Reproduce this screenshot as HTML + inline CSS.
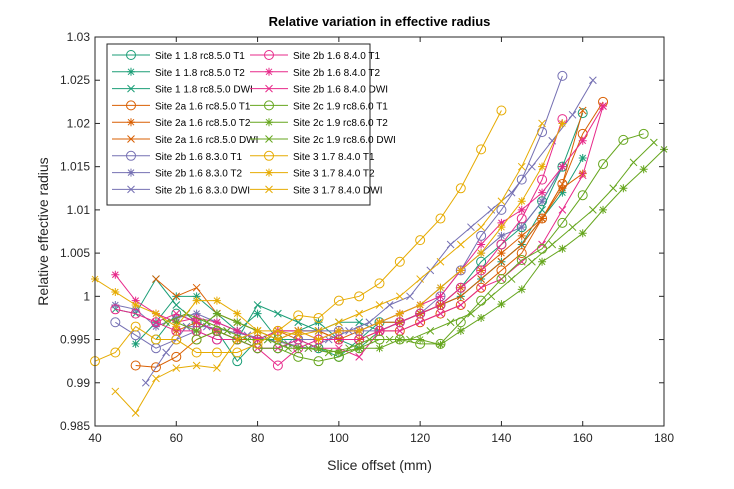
<!DOCTYPE html>
<html><head><meta charset="utf-8"><style>
body{margin:0;background:#fff}
svg{font-family:"Liberation Sans",sans-serif}
</style></head><body>
<svg id="chart" width="734" height="484"></svg>
<script>
const xTicks=[40,60,80,100,120,140,160,180];
const yTicks=[0.985,0.99,0.995,1,1.005,1.01,1.015,1.02,1.025,1.03];
const yTickLabels=["0.985","0.99","0.995","1","1.005","1.01","1.015","1.02","1.025","1.03"];
const seriesNames=["Site 1 1.8 rc8.5.0 T1","Site 1 1.8 rc8.5.0 T2","Site 1 1.8 rc8.5.0 DWI","Site 2a 1.6 rc8.5.0 T1","Site 2a 1.6 rc8.5.0 T2","Site 2a 1.6 rc8.5.0 DWI","Site 2b 1.6 8.3.0 T1","Site 2b 1.6 8.3.0 T2","Site 2b 1.6 8.3.0 DWI","Site 2b 1.6 8.4.0 T1","Site 2b 1.6 8.4.0 T2","Site 2b 1.6 8.4.0 DWI","Site 2c 1.9 rc8.6.0 T1","Site 2c 1.9 rc8.6.0 T2","Site 2c 1.9 rc8.6.0 DWI","Site 3 1.7 8.4.0 T1","Site 3 1.7 8.4.0 T2","Site 3 1.7 8.4.0 DWI"];
const seriesStart=[55,50,45,50,60,55,45,45,52.5,45,45,55,65,60,57.5,40,40,45];
const s0=[0.995,0.998,0.997,0.996,0.9925,0.995,0.995,0.995,0.994,0.993,0.995,0.997,0.997,0.998,0.999,1.001,1.004,1.006,1.008,1.011,1.015,1.0212];
const s1=[0.9945,0.997,1.000,1.000,0.998,0.996,0.998,0.995,0.996,0.997,0.995,0.994,0.996,0.997,0.998,0.999,1.000,1.002,1.004,1.006,1.009,1.012,1.016];
const s2=[0.9985,0.998,1.002,0.999,0.997,0.996,0.995,0.999,0.998,0.997,0.996,0.997,0.997,0.996,0.997,0.998,0.999,1.000,1.002,1.004,1.006,1.010,1.015];
const s3=[0.992,0.9918,0.993,0.995,0.996,0.995,0.995,0.996,0.995,0.995,0.995,0.995,0.996,0.996,0.997,0.998,0.999,1.001,1.003,1.005,1.009,1.013,1.0188,1.0225];
const s4=[0.996,0.997,0.996,0.995,0.995,0.996,0.996,0.996,0.995,0.995,0.996,0.997,0.998,0.999,1.001,1.003,1.005,1.007,1.009,1.0125,1.0142];
const s5=[1.002,1.000,1.001,0.998,0.997,0.996,0.995,0.996,0.996,0.995,0.996,0.997,0.997,0.998,0.999,1.000,1.002,1.004,1.006,1.009,1.013,1.0215];
const s6=[0.997,0.9955,0.994,0.995,0.996,0.995,0.995,0.994,0.994,0.995,0.995,0.996,0.996,0.996,0.997,0.998,1.000,1.003,1.007,1.010,1.0135,1.019,1.0255];
const s7=[0.999,0.9985,0.9965,0.9975,0.998,0.997,0.996,0.995,0.996,0.996,0.996,0.996,0.996,0.997,0.998,0.999,1.001,1.003,1.005,1.007,1.008,1.011,1.015];
const s8=[0.990,0.9935,0.9965,0.9965,0.996,0.9955,0.995,0.9945,0.994,0.995,0.996,0.997,0.999,1.000,1.003,1.006,1.008,1.010,1.012,1.015,1.018,1.021,1.025];
const s9=[0.9985,0.998,0.997,0.996,0.996,0.995,0.995,0.994,0.992,0.994,0.995,0.995,0.995,0.996,0.997,0.998,0.999,1.001,1.003,1.006,1.009,1.0135,1.0205];
const s10=[1.0025,0.9995,0.998,0.997,0.9975,0.997,0.996,0.995,0.996,0.996,0.995,0.996,0.996,0.997,0.998,0.999,1.000,1.003,1.006,1.0085,1.010,1.012,1.015,1.018,1.022];
const s11=[0.997,0.998,0.997,0.996,0.995,0.994,0.994,0.995,0.994,0.994,0.993,0.996,0.996,0.997,0.998,0.999,1.001,1.002,1.004,1.006,1.010,1.014,1.022];
const s12=[0.995,0.996,0.995,0.994,0.994,0.993,0.9925,0.993,0.994,0.995,0.995,0.9945,0.9945,0.997,0.9995,1.002,1.0042,1.0055,1.0085,1.0117,1.0153,1.0181,1.0188];
const s13=[0.997,0.996,0.998,0.997,0.996,0.995,0.994,0.994,0.9935,0.994,0.994,0.995,0.995,0.9944,0.996,0.9975,0.9991,1.0008,1.004,1.0055,1.0073,1.010,1.0125,1.0147,1.017];
const s14=[0.997,0.998,0.997,0.996,0.995,0.995,0.994,0.994,0.9935,0.994,0.995,0.995,0.995,0.996,0.997,0.998,1.000,1.002,1.004,1.006,1.008,1.010,1.0125,1.0155,1.0178];
const s15=[0.9925,0.9935,0.9965,0.995,0.995,0.9935,0.9935,0.9935,0.9945,0.996,0.9978,0.9975,0.9995,1.000,1.0015,1.004,1.0065,1.009,1.0125,1.017,1.0215];
const s16=[1.002,1.0005,0.999,0.998,0.9965,0.9995,0.9995,0.998,0.996,0.995,0.996,0.995,0.996,0.996,0.997,0.998,0.999,1.001,1.003,1.005,1.008,1.011,1.015,1.020];
const s17=[0.989,0.9865,0.9905,0.9917,0.992,0.9917,0.995,0.996,0.996,0.9955,0.996,0.997,0.998,0.999,1.000,1.002,1.004,1.006,1.008,1.011,1.015,1.020];
const seriesValues=[s0,s1,s2,s3,s4,s5,s6,s7,s8,s9,s10,s11,s12,s13,s14,s15,s16,s17];
const colors=["#1b9e77","#d95f02","#7570b3","#e7298a","#66a61e","#e6ab02"];
const markers=["o","*","x"];

const L=95,R=664,T=37,B=426;
const xS=v=>L+(v-40)/140*(R-L);
const yS=v=>B-(v-0.985)/0.045*(B-T);
const NS="http://www.w3.org/2000/svg";
const svg=document.getElementById('chart');
function mk(tag,attrs,parent){const e=document.createElementNS(NS,tag);for(const k in attrs)e.setAttribute(k,attrs[k]);(parent||svg).appendChild(e);return e;}

const defs=mk('defs',{});
const cp=mk('clipPath',{id:'clip'},defs);
mk('rect',{x:L-6,y:T,width:R-L+12,height:B-T},cp);

function marker(g,type,x,y,c){
  if(type==='o'){mk('circle',{cx:x,cy:y,r:4.5,fill:'none',stroke:c,'stroke-width':1},g);}
  else if(type==='x'){mk('path',{d:`M${x-3.5} ${y-3.5}L${x+3.5} ${y+3.5}M${x-3.5} ${y+3.5}L${x+3.5} ${y-3.5}`,stroke:c,'stroke-width':1},g);}
  else{mk('path',{d:`M${x-4} ${y}L${x+4} ${y}M${x} ${y-4}L${x} ${y+4}M${x-3} ${y-3}L${x+3} ${y+3}M${x-3} ${y+3}L${x+3} ${y-3}`,stroke:c,'stroke-width':1},g);}
}

const sg=mk('g',{'clip-path':'url(#clip)'});


seriesValues.forEach((vals,i)=>{
  const c=colors[Math.floor(i/3)],m=markers[i%3];
  const g=mk('g',{},sg);
  
  
  const pts=vals.map((v,j)=>[xS(seriesStart[i]+5*j),yS(v)]);
  mk('polyline',{points:pts.map(p=>p.join(',')).join(' '),fill:'none',stroke:c,'stroke-width':1},g);
  pts.forEach(p=>marker(g,m,p[0],p[1],c));
});

const ax=mk('g',{});


mk('rect',{x:L,y:T,width:R-L,height:B-T,fill:'none',stroke:'#262626','stroke-width':1},ax);
xTicks.forEach(t=>{
  const x=xS(t);
  mk('line',{x1:x,y1:B,x2:x,y2:B-5,stroke:'#262626'},ax);
  mk('line',{x1:x,y1:T,x2:x,y2:T+5,stroke:'#262626'},ax);
  const tx=mk('text',{x:x,y:B+16,'text-anchor':'middle','font-size':12,fill:'#262626'},ax);
  tx.textContent=t;
  
  
});
yTicks.forEach((t,i)=>{
  const y=yS(t);
  mk('line',{x1:L,y1:y,x2:L+5,y2:y,stroke:'#262626'},ax);
  mk('line',{x1:R,y1:y,x2:R-5,y2:y,stroke:'#262626'},ax);
  const tx=mk('text',{x:L-5,y:y+4,'text-anchor':'end','font-size':12,fill:'#262626'},ax);
  tx.textContent=yTickLabels[i];
  
  
});
const title=mk('text',{x:(L+R)/2,y:26,'text-anchor':'middle','font-size':13,'font-weight':'bold',fill:'#000'});
title.textContent='Relative variation in effective radius';


const xl=mk('text',{x:(L+R)/2,y:470,'text-anchor':'middle','font-size':14,fill:'#262626'});
xl.textContent='Slice offset (mm)';


const yl=mk('text',{x:0,y:0,'text-anchor':'middle','font-size':14,fill:'#262626',transform:`translate(48,${(T+B)/2}) rotate(-90)`});
yl.textContent='Relative effective radius';



const lg=mk('g',{});


mk('rect',{x:107,y:44,width:263,height:161,fill:'#fff',stroke:'#262626','stroke-width':1},lg);
seriesNames.forEach((n,i)=>{
  const col=Math.floor(i/9), row=i%9;
  const idx=col===0?row:9+row;
  const c=colors[Math.floor(idx/3)],m=markers[idx%3];
  const x0=col===0?112:250, y=55+row*16.8;
  const e=mk('g',{},lg);
  
  
  mk('line',{x1:x0,y1:y,x2:x0+38,y2:y,stroke:c},e);
  marker(e,m,x0+19,y,c);
  const t=mk('text',{x:x0+43,y:y+4,'font-size':10,fill:'#000'},e);
  t.textContent=seriesNames[idx];
});
</script>
</body></html>
